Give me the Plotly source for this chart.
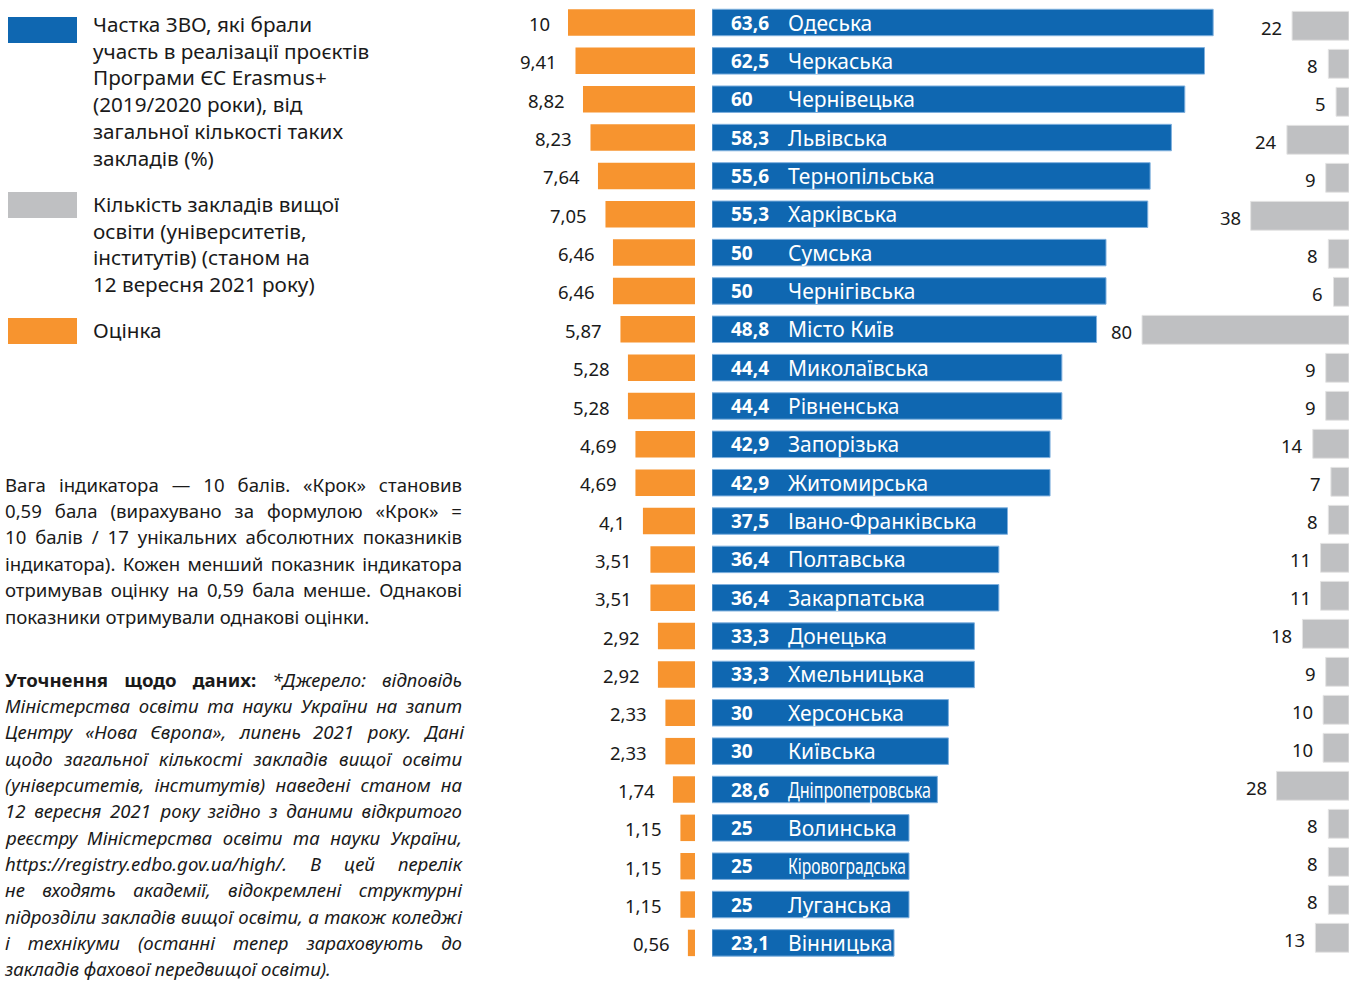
import json
import plotly.graph_objects as go

# ---------------- data ----------------
regions = ["Одеська", "Черкаська", "Чернівецька", "Львівська", "Тернопільська", "Харківська",
           "Сумська", "Чернігівська", "Місто Київ", "Миколаївська", "Рівненська", "Запорізька",
           "Житомирська", "Івано-Франківська", "Полтавська", "Закарпатська", "Донецька",
           "Хмельницька", "Херсонська", "Київська", "Дніпропетровська", "Волинська",
           "Кіровоградська", "Луганська", "Вінницька"]
erasmus_share = [63.6, 62.5, 60, 58.3, 55.6, 55.3, 50, 50, 48.8, 44.4, 44.4, 42.9, 42.9,
                 37.5, 36.4, 36.4, 33.3, 33.3, 30, 30, 28.6, 25, 25, 25, 23.1]
scores = [10, 9.41, 8.82, 8.23, 7.64, 7.05, 6.46, 6.46, 5.87, 5.28, 5.28, 4.69, 4.69,
          4.1, 3.51, 3.51, 2.92, 2.92, 2.33, 2.33, 1.74, 1.15, 1.15, 1.15, 0.56]
hei_count = [22, 8, 5, 24, 9, 38, 8, 6, 80, 9, 9, 14, 7, 8, 11, 11, 18, 9, 10, 10, 28, 8, 8, 8, 13]
# names set in a condensed face in the original, with their printed length (px)
condensed_names = {"Дніпропетровська": 143, "Кіровоградська": 118}

legend_blue = ["Частка ЗВО, які брали", "участь в реалізації проєктів", "Програми ЄС Erasmus+",
               "(2019/2020 роки), від", "загальної кількості таких", "закладів (%)"]
legend_grey = ["Кількість закладів вищої", "освіти (університетів,", "інститутів) (станом на",
               "12 вересня 2021 року)"]
legend_orange = ["Оцінка"]

note1 = ["Вага індикатора — 10 балів. «Крок» становив",
         "0,59 бала (вирахувано за формулою «Крок» =",
         "10 балів / 17 унікальних абсолютних показників",
         "індикатора). Кожен менший показник індикатора",
         "отримував оцінку на 0,59 бала менше. Однакові",
         "показники отримували однакові оцінки."]
note2_bold = "Уточнення щодо даних:"
note2 = ["*Джерело: відповідь",
         "Міністерства освіти та науки України на запит",
         "Центру «Нова Європа», липень 2021 року. Дані",
         "щодо загальної кількості закладів вищої освіти",
         "(університетів, інститутів) наведені станом на",
         "12 вересня 2021 року згідно з даними відкритого",
         "реєстру Міністерства освіти та науки України,",
         "https://registry.edbo.gov.ua/high/. В цей перелік",
         "не входять академії, відокремлені структурні",
         "підрозділи закладів вищої освіти, а також коледжі",
         "і технікуми (останні тепер зараховують до",
         "закладів фахової передвищої освіти)."]

# ---------------- style ----------------
W, H = 1355, 981
BLUE = "#0f67b1"
ORANGE = "#f7942f"
GREY = "#bfc0c2"
TXT = "#1a1a1a"
FONT = "Noto Sans"
LEFT, RIGHT = 5, 462


def fmt(v):
    return f"{v:g}".replace(".", ",")


def px(x):
    return x / W


def py(y):
    return 1 - y / H


idx = list(range(len(regions)))

fig = go.Figure()
fig.add_trace(go.Bar(x=scores, y=idx, orientation="h", xaxis="x", yaxis="y",
                     marker=dict(color=ORANGE, line=dict(width=0)), width=0.69,
                     hoverinfo="skip"))
fig.add_trace(go.Bar(x=erasmus_share, y=idx, orientation="h", xaxis="x2", yaxis="y",
                     marker=dict(color=BLUE, line=dict(color="#7fb0de", width=1)), width=0.69,
                     hoverinfo="skip"))
fig.add_trace(go.Bar(x=hei_count, y=idx, orientation="h", xaxis="x3", yaxis="y2",
                     marker=dict(color=GREY, line=dict(color="#e4e4e4", width=1)), width=0.76,
                     hoverinfo="skip"))

ann = []
cond_idx = {}      # annotation index -> condensed text length
word_lines = []    # [{"ids": [...], "just": bool}]

for i in idx:
    ann.append(dict(x=scores[i], y=i, xref="x", yref="y", xanchor="right", yanchor="middle",
                    xshift=-16, yshift=-1, text=fmt(scores[i]), showarrow=False,
                    font=dict(family=FONT, size=18.5, color=TXT)))
    ann.append(dict(x=0, y=i, xref="x2", yref="y", xanchor="left", yanchor="middle",
                    xshift=17, text="<b>" + fmt(erasmus_share[i]) + "</b>", showarrow=False,
                    font=dict(family=FONT, size=19, color="white")))
    nm = regions[i]
    if nm in condensed_names:
        cond_idx[len(ann)] = condensed_names[nm]
    ann.append(dict(x=0, y=i, xref="x2", yref="y", xanchor="left", yanchor="middle",
                    align="left", xshift=74, text=nm, showarrow=False,
                    font=dict(family=FONT, size=21, color="white")))
    ann.append(dict(x=hei_count[i], y=i, xref="x3", yref="y2", xanchor="right", yanchor="middle",
                    xshift=-8, yshift=-2, text=str(hei_count[i]), showarrow=False,
                    font=dict(family=FONT, size=18.5, color=TXT)))

# legend
shapes = []
for color, y0 in [(BLUE, 17), (GREY, 192), (ORANGE, 318)]:
    shapes.append(dict(type="rect", xref="paper", yref="paper", x0=px(8), x1=px(77),
                       y0=py(y0), y1=py(y0 + 26), fillcolor=color, line=dict(width=0)))
for lines, y0 in [(legend_blue, 24), (legend_grey, 204), (legend_orange, 330)]:
    for k, t in enumerate(lines):
        ann.append(dict(x=px(93), y=py(y0 + 26.7 * k), xref="paper", yref="paper",
                        xanchor="left", yanchor="middle", align="left", text=t,
                        showarrow=False, borderpad=0, borderwidth=0,
                        font=dict(family=FONT, size=20.7, color=TXT)))

NS = 18.6


def add_words(words, styles, y, just):
    ids = []
    x = LEFT
    for w, s in zip(words, styles):
        t = {"i": "<i>%s</i>", "b": "<b>%s</b>", "n": "%s"}[s] % w
        ids.append(len(ann))
        ann.append(dict(x=px(x), y=py(y), xref="paper", yref="paper", xanchor="left",
                        yanchor="middle", align="left", text=t, showarrow=False,
                        borderpad=0, borderwidth=0,
                        font=dict(family=FONT, size=NS, color=TXT)))
        x += (len(w) * 0.56 + 0.26) * NS
    word_lines.append({"ids": ids, "just": just})


for k, line in enumerate(note1):
    words = line.split()
    add_words(words, ["n"] * len(words), 484 + 26.4 * k, k < len(note1) - 1)

for k, line in enumerate(note2):
    words = line.split()
    styles = ["i"] * len(words)
    if k == 0:
        bw = note2_bold.split()
        words = bw + words
        styles = ["b"] * len(bw) + styles
    add_words(words, styles, 679 + 26.35 * k, k < len(note2) - 1)

fig.update_layout(
    width=W, height=H, margin=dict(l=0, r=0, t=0, b=0),
    paper_bgcolor="white", plot_bgcolor="rgba(0,0,0,0)",
    showlegend=False, barmode="overlay",
    xaxis=dict(domain=[px(480), px(695)], range=[(695 - 480) / 12.7, 0], visible=False,
               fixedrange=True),
    xaxis2=dict(domain=[px(712), px(1250)], range=[0, (1250 - 712) / 7.88], visible=False,
                anchor="y", fixedrange=True),
    xaxis3=dict(domain=[px(1120), px(1349)], range=[(1349 - 1120) / 2.5875, 0], visible=False,
                anchor="y2", fixedrange=True),
    yaxis=dict(domain=[0, 1], range=[(981 - 22.5) / 38.35, -22.5 / 38.35], visible=False,
               fixedrange=True),
    yaxis2=dict(domain=[0, 1], range=[(981 - 25.8) / 38.0, -25.8 / 38.0], visible=False,
                anchor="x3", overlaying="y", fixedrange=True),
    annotations=ann, shapes=shapes,
)

post = """
document.body.style.margin='0';document.body.style.overflow='hidden';
try {
  var gd = document.getElementsByClassName('plotly-graph-div')[0];
  var L = %s, C = %s, LEFT = %d, RIGHT = %d, SP = %f;
  function grp(i){ return gd.querySelector('g.annotation[data-index="' + i + '"]'); }
  L.forEach(function(line){
    var gs = line.ids.map(grp);
    if(gs.some(function(g){ return !g; })) return;
    var ts = gs.map(function(g){ return g.querySelector('text.annotation-text'); });
    var ws = ts.map(function(t){ return t.getComputedTextLength(); });
    var sum = ws.reduce(function(a, b){ return a + b; }, 0);
    var n = ws.length;
    var gap = (line.just && n > 1) ? (RIGHT - LEFT - sum) / (n - 1) : SP;
    var x = LEFT;
    for(var k = 0; k < n; k++){
      var r = ts[k].getBoundingClientRect();
      var shift = x - r.left;
      var tr = gs[k].getAttribute('transform') || '';
      gs[k].setAttribute('transform', tr + ' translate(' + shift + ',0)');
      x += ws[k] + gap;
    }
  });
  Object.keys(C).forEach(function(i){
    var g = grp(i);
    if(!g) return;
    var t = g.querySelector('text.annotation-text');
    t.setAttribute('textLength', C[i]);
    t.setAttribute('lengthAdjust', 'spacingAndGlyphs');
  });
} catch(e) {}
""" % (json.dumps(word_lines), json.dumps({str(k): v for k, v in cond_idx.items()}),
       LEFT, RIGHT, 0.26 * NS)

fig.write_html("out.html", config={"staticPlot": True}, post_script=post)
